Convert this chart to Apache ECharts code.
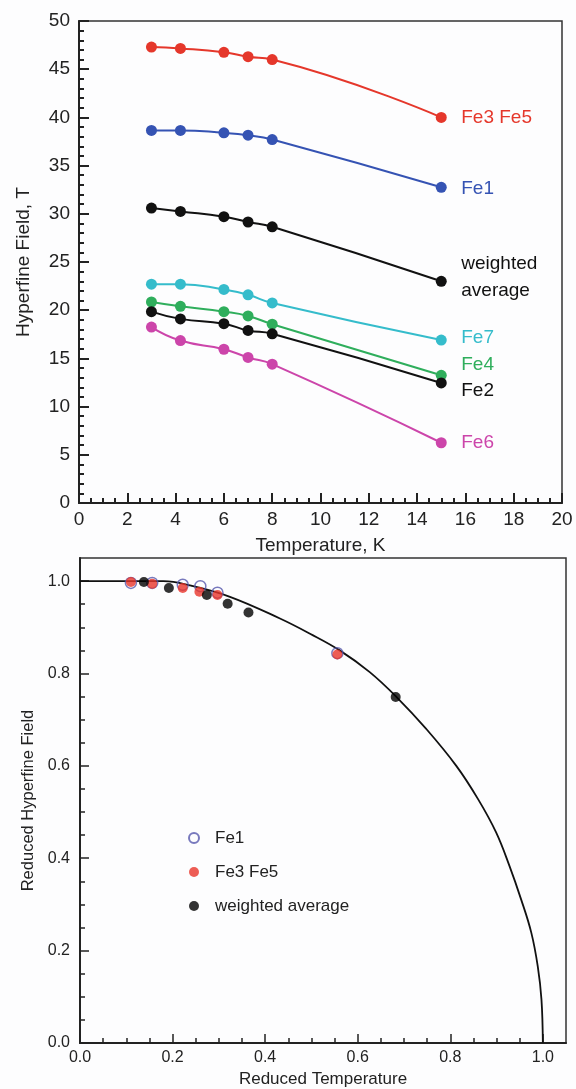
<!DOCTYPE html>
<html>
<head>
<meta charset="utf-8">
<script src="https://cdn.jsdelivr.net/npm/echarts@6/dist/echarts.min.js"></script>
<style>
  html, body { margin: 0; padding: 0; background: #fdfdfe; }
  #chart { width: 576px; height: 1089px; }
</style>
</head>
<body>
<div id="chart"></div>
<script>
// Upper panel: hyperfine field (T) against temperature (K) for each iron site
var temperatureK = [3, 4.2, 6, 7, 8, 15];
var fieldFe35 = [47.3, 47.15, 46.75, 46.3, 46.0, 40.0];
var fieldFe1 = [38.65, 38.65, 38.4, 38.15, 37.7, 32.75];
var fieldWeighted = [30.6, 30.25, 29.7, 29.15, 28.65, 23.0];
var fieldFe7 = [22.7, 22.7, 22.15, 21.6, 20.75, 16.9];
var fieldFe4 = [20.85, 20.4, 19.85, 19.4, 18.55, 13.25];
var fieldFe2 = [19.85, 19.1, 18.6, 17.9, 17.55, 12.45];
var fieldFe6 = [18.25, 16.85, 15.95, 15.1, 14.4, 6.25];

// Lower panel: reduced field against reduced temperature
var redTempFe1 = [0.110, 0.156, 0.222, 0.260, 0.297, 0.556];
var redFieldFe1 = [0.996, 0.996, 0.992, 0.989, 0.975, 0.844];
var redTempFe35 = [0.110, 0.156, 0.222, 0.258, 0.297, 0.556];
var redFieldFe35 = [0.998, 0.994, 0.985, 0.977, 0.970, 0.841];
var redTempWeighted = [0.138, 0.192, 0.274, 0.319, 0.364, 0.682];
var redFieldWeighted = [0.998, 0.985, 0.970, 0.951, 0.932, 0.749];

// Theoretical magnetization curve
var curveTemp = [0, 0.10, 0.18, 0.24, 0.324, 0.432, 0.497, 0.561, 0.626, 0.684, 0.748, 0.813, 0.860, 0.899, 0.928, 0.953, 0.975, 0.989, 0.997, 1.0];
var curveField = [1.0, 1.0, 1.0, 0.99, 0.966, 0.919, 0.886, 0.850, 0.803, 0.749, 0.680, 0.600, 0.528, 0.456, 0.383, 0.311, 0.239, 0.166, 0.094, 0.0];

// Tick positions of the lower panel
var redMajorTicks = [0, 0.2, 0.4, 0.6, 0.8, 1.0];
var redMinorTicks = [0.05, 0.1, 0.15, 0.25, 0.3, 0.35, 0.45, 0.5, 0.55, 0.65, 0.7, 0.75, 0.85, 0.9, 0.95];

function pairs(xs, ys) {
  return xs.map(function (x, i) { return [x, ys[i]]; });
}

var FONT = '"Liberation Sans", Arial, Helvetica, sans-serif';
var AXIS_COLOR = '#222';

function siteSeries(name, values, color, labelText, dy, lineH) {
  return {
    type: 'line',
    name: name,
    xAxisIndex: 0,
    yAxisIndex: 0,
    data: pairs(temperatureK, values),
    smooth: 0.5,
    symbol: 'circle',
    symbolSize: 11,
    lineStyle: { color: color, width: 2 },
    itemStyle: { color: color },
    endLabel: {
      show: true,
      formatter: labelText,
      color: color,
      fontFamily: FONT,
      fontSize: 19,
      lineHeight: lineH || 22,
      align: 'left',
      distance: 20,
      offset: [0, dy]
    },
    emphasis: { disabled: true },
    z: 3
  };
}

var chart = echarts.init(document.getElementById('chart'), null, { renderer: 'canvas' });

var option = {
  backgroundColor: '#fdfdfe',
  animation: false,
  textStyle: { fontFamily: FONT },
  grid: [
    { left: 79, top: 21, width: 483, height: 482, show: true, borderColor: '#333', borderWidth: 1.5, backgroundColor: 'transparent' },
    { left: 80, top: 558, width: 486, height: 485, show: true, borderColor: '#333', borderWidth: 1.5, backgroundColor: 'transparent' }
  ],
  legend: {
    orient: 'vertical',
    left: 183,
    top: 824,
    itemWidth: 10,
    itemHeight: 10,
    itemGap: 16,
    data: ['Fe1', 'Fe3 Fe5', 'weighted average'],
    textStyle: { fontFamily: FONT, fontSize: 17, color: '#222', lineHeight: 18, padding: [0, 0, 0, 11] },
    selectedMode: false
  },
  xAxis: [
    {
      gridIndex: 0, type: 'value', min: 0, max: 20, interval: 2,
      name: 'Temperature, K', nameLocation: 'middle', nameGap: 33,
      nameTextStyle: { fontSize: 19, color: '#222', fontFamily: FONT },
      axisLine: { show: true, lineStyle: { color: AXIS_COLOR, width: 2 } },
      axisTick: { show: true, inside: true, length: 10, lineStyle: { color: AXIS_COLOR, width: 2 } },
      minorTick: { show: true, splitNumber: 4, length: 5, lineStyle: { color: AXIS_COLOR, width: 2 } },
      axisLabel: { fontSize: 19, color: '#222', margin: 7, fontFamily: FONT },
      splitLine: { show: false }
    },
    {
      gridIndex: 1, type: 'value', min: 0, max: 1.05, position: 'bottom',
      name: 'Reduced Temperature', nameLocation: 'middle', nameGap: 28,
      nameTextStyle: { fontSize: 17, color: '#222', fontFamily: FONT },
      axisLine: { show: true, onZero: false, lineStyle: { color: AXIS_COLOR, width: 2 } },
      axisTick: { show: true, inside: true, length: 9, customValues: redMajorTicks, lineStyle: { color: AXIS_COLOR, width: 1.5 } },
      axisLabel: { fontSize: 16, color: '#222', margin: 7, customValues: redMajorTicks, fontFamily: FONT,
        formatter: function (v) { return v.toFixed(1); } },
      splitLine: { show: false }
    },
    {
      gridIndex: 1, type: 'value', min: 0, max: 1.05, position: 'bottom',
      axisLine: { show: false, onZero: false },
      axisTick: { show: true, inside: true, length: 5, customValues: redMinorTicks, lineStyle: { color: AXIS_COLOR, width: 1.5 } },
      axisLabel: { show: false },
      splitLine: { show: false }
    }
  ],
  yAxis: [
    {
      gridIndex: 0, type: 'value', min: 0, max: 50, interval: 5,
      name: 'Hyperfine Field, T', nameLocation: 'middle', nameGap: 46,
      nameTextStyle: { fontSize: 19, color: '#222', fontFamily: FONT },
      axisLine: { show: true, lineStyle: { color: AXIS_COLOR, width: 2 } },
      axisTick: { show: true, inside: true, length: 10, lineStyle: { color: AXIS_COLOR, width: 2 } },
      minorTick: { show: true, splitNumber: 5, length: 5, lineStyle: { color: AXIS_COLOR, width: 2 } },
      axisLabel: { fontSize: 19, color: '#222', margin: 9, fontFamily: FONT },
      splitLine: { show: false }
    },
    {
      gridIndex: 1, type: 'value', min: 0, max: 1.05, position: 'left',
      name: 'Reduced Hyperfine Field', nameLocation: 'middle', nameGap: 43,
      nameTextStyle: { fontSize: 16.5, color: '#222', fontFamily: FONT },
      axisLine: { show: true, onZero: false, lineStyle: { color: AXIS_COLOR, width: 2 } },
      axisTick: { show: true, inside: true, length: 9, customValues: redMajorTicks, lineStyle: { color: AXIS_COLOR, width: 1.5 } },
      axisLabel: { fontSize: 16, color: '#222', margin: 10, customValues: redMajorTicks, fontFamily: FONT,
        formatter: function (v) { return v.toFixed(1); } },
      splitLine: { show: false }
    },
    {
      gridIndex: 1, type: 'value', min: 0, max: 1.05, position: 'left',
      axisLine: { show: false, onZero: false },
      axisTick: { show: true, inside: true, length: 5, customValues: redMinorTicks, lineStyle: { color: AXIS_COLOR, width: 1.5 } },
      axisLabel: { show: false },
      splitLine: { show: false }
    }
  ],
  series: [
    siteSeries('Fe3 Fe5 site', fieldFe35, '#e5372b', 'Fe3 Fe5', 0),
    siteSeries('Fe1 site', fieldFe1, '#3553b3', 'Fe1', 1),
    siteSeries('weighted average site', fieldWeighted, '#111111', 'weighted\naverage', -4, 27),
    siteSeries('Fe7 site', fieldFe7, '#35bccb', 'Fe7', -2),
    siteSeries('Fe4 site', fieldFe4, '#2fae5c', 'Fe4', -11),
    siteSeries('Fe2 site', fieldFe2, '#111111', 'Fe2', 8),
    siteSeries('Fe6 site', fieldFe6, '#cc45aa', 'Fe6', 0),
    {
      type: 'line',
      name: 'curve',
      xAxisIndex: 1,
      yAxisIndex: 1,
      data: pairs(curveTemp, curveField),
      smooth: 0.4,
      showSymbol: false,
      symbol: 'none',
      lineStyle: { color: '#111', width: 1.8 },
      emphasis: { disabled: true },
      z: 2
    },
    {
      type: 'scatter',
      name: 'Fe1',
      xAxisIndex: 1,
      yAxisIndex: 1,
      data: pairs(redTempFe1, redFieldFe1),
      symbol: 'circle',
      symbolSize: 11,
      itemStyle: { color: 'rgba(255,255,255,0)', borderColor: '#5658ad', borderWidth: 1.5 },
      emphasis: { disabled: true },
      z: 3
    },
    {
      type: 'scatter',
      name: 'Fe3 Fe5',
      xAxisIndex: 1,
      yAxisIndex: 1,
      data: pairs(redTempFe35, redFieldFe35),
      symbol: 'circle',
      symbolSize: 10,
      itemStyle: { color: '#e8352b' },
      emphasis: { disabled: true },
      z: 4
    },
    {
      type: 'scatter',
      name: 'weighted average',
      xAxisIndex: 1,
      yAxisIndex: 1,
      data: pairs(redTempWeighted, redFieldWeighted),
      symbol: 'circle',
      symbolSize: 10,
      itemStyle: { color: '#000000' },
      emphasis: { disabled: true },
      z: 4
    }
  ]
};

chart.setOption(option);
</script>
</body>
</html>
